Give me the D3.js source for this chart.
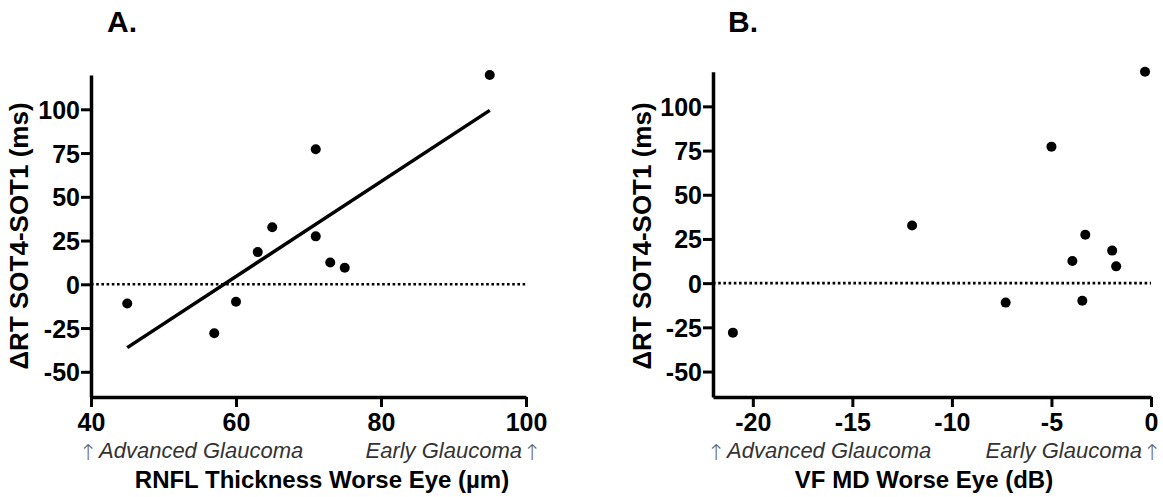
<!DOCTYPE html>
<html>
<head>
<meta charset="utf-8">
<script src="https://cdn.jsdelivr.net/npm/d3@7"></script>
<style>
  html, body { margin: 0; padding: 0; background: #fff; }
  svg { display: block; font-family: Arial, "Liberation Sans", sans-serif; }
</style>
</head>
<body>
<svg id="chart" width="1163" height="497"></svg>
<script>
// Change in reaction time (SOT4 - SOT1, ms) for each participant
const deltaRT = [-11, -28, -10, 18.4, 32.6, 77.2, 27.4, 12.5, 9.5, 119.6];
// RNFL thickness of the worse eye (µm), same participant order
const rnflThickness = [45, 57, 60, 63, 65, 71, 71, 73, 75, 95];
// Visual field mean deviation of the worse eye (dB), same participant order
const vfMD = [-7.3, -21.0, -3.45, -1.95, -12.0, -5.0, -3.3, -3.95, -1.75, -0.3];

const yTicks = [-50, -25, 0, 25, 50, 75, 100];
const rnflTicks = [40, 60, 80, 100];
const mdTicks = [-20, -15, -10, -5, 0];

const svg = d3.select("#chart");
// plain hyphen for negative numbers
const fmt = v => String(v);

// Least-squares fit of deltaRT on x
function linearFit(xs, ys) {
  const mx = d3.mean(xs), my = d3.mean(ys);
  let sxy = 0, sxx = 0;
  xs.forEach((x, i) => { sxy += (x - mx) * (ys[i] - my); sxx += (x - mx) * (x - mx); });
  const slope = sxy / sxx;
  return { slope, intercept: my - slope * mx };
}

function drawPanel(cfg) {
  const g = svg.append("g");
  const x = d3.scaleLinear().domain(cfg.xDomain).range([cfg.left, cfg.right]);
  const y = d3.scaleLinear().domain(cfg.yDomain).range([cfg.bottom, cfg.top]);

  // panel letter
  g.append("text")
    .attr("x", cfg.letterX).attr("y", 32)
    .attr("font-size", 30).attr("font-weight", "bold")
    .text(cfg.letter);

  // zero reference line
  g.append("line")
    .attr("x1", x(cfg.xDomain[0])).attr("x2", x(cfg.xDomain[1]))
    .attr("y1", y(0)).attr("y2", y(0))
    .attr("stroke", "#000").attr("stroke-width", 2.6)
    .attr("stroke-dasharray", "2.6,2.6");

  // regression line
  if (cfg.fit) {
    const f = linearFit(cfg.xs, deltaRT);
    const ext = d3.extent(cfg.xs);
    g.append("line")
      .attr("x1", x(ext[0])).attr("y1", y(f.intercept + f.slope * ext[0]))
      .attr("x2", x(ext[1])).attr("y2", y(f.intercept + f.slope * ext[1]))
      .attr("stroke", "#000").attr("stroke-width", 3.5);
  }

  // points
  g.selectAll("circle.pt").data(cfg.xs.map((v, i) => [v, deltaRT[i]]))
    .join("circle")
    .attr("class", "pt")
    .attr("cx", d => x(d[0])).attr("cy", d => y(d[1]))
    .attr("r", 5).attr("fill", "#000");

  // y axis
  const yAxis = g.append("g")
    .attr("transform", `translate(${cfg.left},0)`)
    .call(d3.axisLeft(y).tickValues(yTicks).tickFormat(fmt)
      .tickSize(10).tickSizeOuter(0).tickPadding(1));
  // x axis
  const xAxis = g.append("g")
    .attr("transform", `translate(0,${cfg.bottom})`)
    .call(d3.axisBottom(x).tickValues(cfg.xTicks).tickFormat(fmt)
      .tickSize(10).tickSizeOuter(0).tickPadding(4));

  [yAxis, xAxis].forEach(a => {
    a.select(".domain").attr("stroke-width", 3.5).attr("stroke", "#000");
    a.selectAll(".tick line").attr("stroke-width", 3).attr("stroke", "#000");
    a.selectAll(".tick text")
      .attr("font-size", 25).attr("font-weight", "bold").attr("fill", "#000")
      .attr("font-family", "Arial, 'Liberation Sans', sans-serif");
  });
  yAxis.selectAll(".tick text").attr("dy", "0.36em");
  xAxis.selectAll(".tick text").attr("dy", "0.78em");

  // y axis title
  g.append("text")
    .attr("transform", `translate(${cfg.yTitleX},236) rotate(-90)`)
    .attr("text-anchor", "middle")
    .attr("font-size", 26).attr("font-weight", "bold")
    .text("ΔRT SOT4-SOT1 (ms)");

  // severity annotations
  const ann = g.append("g").attr("font-size", 22);
  const arrow = cx => ann.append("text").attr("x", cx).attr("y", 460)
    .attr("text-anchor", "middle")
    .attr("font-family", "'DejaVu Sans', sans-serif").attr("font-weight", 200)
    .attr("font-size", 22).attr("fill", "#666").text("↑");
  arrow(cfg.arrowLeft);
  ann.append("text").attr("x", cfg.arrowLeft + 11).attr("y", 458)
    .attr("fill", "#333").attr("font-style", "italic").text("Advanced Glaucoma");
  ann.append("text").attr("x", cfg.arrowRight - 10).attr("y", 458)
    .attr("text-anchor", "end")
    .attr("fill", "#333").attr("font-style", "italic").text("Early Glaucoma");
  arrow(cfg.arrowRight);

  // x axis title
  g.append("text")
    .attr("x", cfg.xTitleX).attr("y", 488)
    .attr("text-anchor", "middle")
    .attr("font-size", 24).attr("font-weight", "bold")
    .text(cfg.xTitle);
}

drawPanel({
  letter: "A.", letterX: 107,
  xs: rnflThickness, xDomain: [40, 100], xTicks: rnflTicks,
  yDomain: [-64.4, 119.6],
  left: 91, right: 526, top: 75, bottom: 397,
  yTitleX: 28, fit: true,
  arrowLeft: 88, arrowRight: 532,
  xTitleX: 322, xTitle: "RNFL Thickness Worse Eye (µm)"
});

drawPanel({
  letter: "B.", letterX: 728,
  xs: vfMD, xDomain: [-22, 0], xTicks: mdTicks,
  yDomain: [-64.4, 119.6],
  left: 713, right: 1151, top: 71.7, bottom: 397,
  yTitleX: 651, fit: false,
  arrowLeft: 716, arrowRight: 1152,
  xTitleX: 924, xTitle: "VF MD Worse Eye (dB)"
});
</script>
</body>
</html>
